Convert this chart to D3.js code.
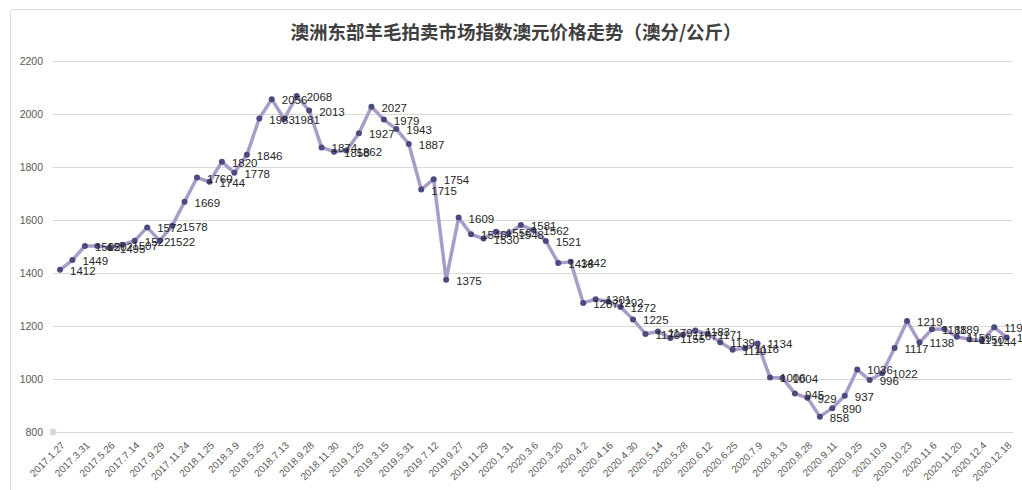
<!DOCTYPE html>
<html>
<head>
<meta charset="utf-8">
<script src="https://cdn.jsdelivr.net/npm/d3@7/dist/d3.min.js"></script>
<style>
  html, body { margin: 0; padding: 0; background: #fff; }
  svg { display: block; }
</style>
</head>
<body>
<svg id="chart" width="1022" height="490"></svg>
<script>
const title = "澳洲东部羊毛拍卖市场指数澳元价格走势（澳分/公斤）";

const dates = [
  "2017.1.27","2017.3.31","2017.5.26","2017.7.14","2017.9.29","2017.11.24",
  "2018.1.25","2018.3.9","2018.5.25","2018.7.13","2018.9.28","2018.11.30",
  "2019.1.25","2019.3.15","2019.5.31","2019.7.12","2019.9.27","2019.11.29",
  "2020.1.31","2020.3.6","2020.3.20","2020.4.2","2020.4.16","2020.4.30",
  "2020.5.14","2020.5.28","2020.6.12","2020.6.25","2020.7.9","2020.8.13",
  "2020.8.28","2020.9.11","2020.9.25","2020.10.9","2020.10.23","2020.11.6",
  "2020.11.20","2020.12.4","2020.12.18"
];

const values = [
  1412,1449,1502,1502,1495,1507,1522,1572,1522,1578,
  1669,1760,1744,1820,1778,1846,1983,2056,1981,2068,
  2013,1874,1858,1862,1927,2027,1979,1943,1887,1715,
  1754,1375,1609,1546,1530,1556,1548,1581,1562,1521,
  1438,1442,1287,1301,1292,1272,1225,1170,1179,1155,
  1167,1183,1171,1139,1110,1116,1134,1006,1004,945,
  929,858,890,937,1036,996,1022,1117,1219,1138,
  1188,1189,1159,1150,1144,1195,1157
];

const yTicks = [800,1000,1200,1400,1600,1800,2000,2200];

// Category labels: one label per two points (every other category shown)
const categories = values.map((v, i) => i % 2 === 0 ? dates[i / 2] : "");

const svg = d3.select("#chart");

// outer frame
svg.append("rect")
  .attr("x", 10.5).attr("y", 9.5)
  .attr("width", 1030).attr("height", 500)
  .attr("rx", 3)
  .attr("fill", "#fff")
  .attr("stroke", "#d9d9e6")
  .attr("stroke-width", 1);

const x = d3.scalePoint()
  .domain(d3.range(values.length))
  .range([60, 1006.7]);

const y = d3.scaleLinear()
  .domain([800, 2200])
  .range([432, 61]);

// title
svg.append("text")
  .attr("x", 516).attr("y", 39)
  .attr("text-anchor", "middle")
  .attr("font-family", "'Noto Sans CJK SC', sans-serif")
  .attr("font-weight", "bold")
  .attr("font-size", 18.5)
  .attr("fill", "#404040")
  .text(title);

// gridlines
svg.append("g")
  .selectAll("line")
  .data(yTicks)
  .join("line")
  .attr("x1", 53).attr("x2", 1013)
  .attr("y1", d => Math.round(y(d)) + 0.5)
  .attr("y2", d => Math.round(y(d)) + 0.5)
  .attr("stroke", "#d9d9d9")
  .attr("stroke-width", 1);

// y axis labels
const yAxis = d3.axisLeft(y).tickValues(yTicks).tickFormat(d3.format("d")).tickSize(0).tickPadding(0);
const gy = svg.append("g").attr("transform", "translate(43,0)").call(yAxis);
gy.select(".domain").remove();
gy.selectAll("text")
  .attr("font-family", "'Liberation Sans', Arial, sans-serif")
  .attr("font-size", 10.5)
  .attr("fill", "#595959");

// x axis labels
const xAxis = d3.axisBottom(x)
  .tickValues(d3.range(0, values.length, 2))
  .tickFormat(i => categories[i])
  .tickSize(0).tickPadding(0);
const gx = svg.append("g").attr("transform", "translate(0,432)").call(xAxis);
gx.select(".domain").remove();
gx.selectAll("text")
  .attr("font-family", "'Liberation Sans', Arial, sans-serif")
  .attr("font-size", 10)
  .attr("fill", "#595959")
  .attr("text-anchor", "end")
  .attr("dy", 0)
  .attr("transform", "translate(5,14) rotate(-45)");

// gray marker at axis origin
svg.append("circle")
  .attr("cx", 53).attr("cy", y(800))
  .attr("r", 3.5)
  .attr("fill", "#d9d9d9");

// line
const line = d3.line()
  .x((d, i) => x(i))
  .y(d => y(d));

svg.append("path")
  .datum(values)
  .attr("d", line)
  .attr("fill", "none")
  .attr("stroke", "#aa9cc8")
  .attr("stroke-width", 3.5)
  .attr("stroke-linejoin", "round");

// markers
svg.append("g")
  .selectAll("circle")
  .data(values)
  .join("circle")
  .attr("cx", (d, i) => x(i))
  .attr("cy", d => y(d))
  .attr("r", 3)
  .attr("fill", "#4b4b80");

// data labels (right of point)
svg.append("g")
  .selectAll("text")
  .data(values)
  .join("text")
  .attr("x", (d, i) => x(i) + 10)
  .attr("y", d => y(d) + 5)
  .attr("font-family", "'Liberation Sans', Arial, sans-serif")
  .attr("font-size", 11.5)
  .attr("fill", "#262626")
  .text(d => d);
</script>
</body>
</html>
